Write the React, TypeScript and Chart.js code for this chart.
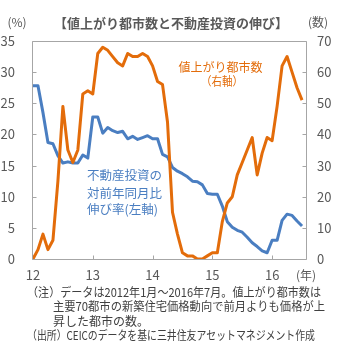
import { useEffect, useRef } from "react";
import { Chart, registerables } from "chart.js";

Chart.register(...registerables);

// Month index 0 = Jan 2012 ... 54 = Jul 2016
const yearTickMonths = [0, 12, 24, 36, 48];
const yearTickLabels = ["12", "13", "14", "15", "16"];

// 不動産投資の対前年同月比伸び率 (%), left axis
const investmentGrowth = [
  27.8, 27.8, 23.5, 18.7, 18.5, 16.6, 15.4, 15.6, 15.4, 15.4, 16.7, 16.2,
  22.8, 22.8, 20.2, 21.1, 20.6, 20.3, 20.5, 19.3, 19.7, 19.2, 19.5, 19.8,
  19.3, 19.3, 16.8, 16.4, 14.7, 14.1, 13.7, 13.2, 12.5, 12.4, 11.9, 10.5,
  10.4, 10.4, 8.5, 6.0, 5.1, 4.6, 4.3, 3.5, 2.6, 2.0, 1.3, 1.0,
  3.0, 3.0, 6.2, 7.2, 7.0, 6.1, 5.3,
];

// 値上がり都市数 (cities), right axis
const risingCities = [
  0, 3, 8, 3, 6, 25, 49, 35, 31, 35, 53, 54,
  53, 66, 68, 67, 65, 63, 62, 66, 65, 65, 66, 65,
  62, 57, 56, 44, 15, 8, 2, 1, 1, 0, 0, 1,
  2, 2, 12, 18, 20, 27, 31, 35, 39, 27, 34, 39,
  38, 49, 62, 65, 60, 55, 51,
];

const leftTicksMax = 35;
const rightTicksMax = 70;

const ORANGE = "#E36C0A";
const BLUE = "#4A7EC1";
const AXIS_GRAY = "#A6A6A6";
const TEXT_GRAY = "#595959";
const FONT = '"Noto Sans CJK JP", "Noto Sans", sans-serif';

const titleText = "【値上がり都市数と不動産投資の伸び】";
const orangeLabel = ["値上がり都市数", "（右軸）"];
const blueLabel = ["不動産投資の", "対前年同月比", "伸び率(左軸)"];
const footnotes = [
  "（注）データは2012年1月～2016年7月。値上がり都市数は",
  "主要70都市の新築住宅価格動向で前月よりも価格が上",
  "昇した都市の数。",
  "（出所）CEICのデータを基に三井住友アセットマネジメント作成",
];

const decorPlugin = {
  id: "decor",
  beforeDatasetsDraw(chart: any) {
    const { ctx, chartArea } = chart;
    const { left, right, top, bottom } = chartArea;
    ctx.save();
    ctx.strokeStyle = AXIS_GRAY;
    ctx.lineWidth = 1;
    ctx.beginPath();
    const L = Math.round(left) - 0.5;
    const R = Math.round(right) - 0.5;
    const T = Math.round(top) + 0.5;
    const B = Math.round(bottom) + 0.5;
    ctx.moveTo(L, T);
    ctx.lineTo(R, T);
    ctx.lineTo(R, B);
    ctx.lineTo(L, B);
    ctx.closePath();
    // inside tick marks
    const xs = chart.scales.x;
    yearTickMonths.forEach((m) => {
      const px = Math.round(xs.getPixelForValue(m)) + 0.5;
      ctx.moveTo(px, B);
      ctx.lineTo(px, B - 4);
    });
    const yl = chart.scales.yL;
    for (let v = 0; v <= leftTicksMax; v += 5) {
      const py = Math.round(yl.getPixelForValue(v)) + 0.5;
      ctx.moveTo(L, py);
      ctx.lineTo(L + 4, py);
    }
    const yr = chart.scales.yR;
    for (let v = 0; v <= rightTicksMax; v += 10) {
      const py = Math.round(yr.getPixelForValue(v)) + 0.5;
      ctx.moveTo(R, py);
      ctx.lineTo(R - 4, py);
    }
    ctx.stroke();
    ctx.restore();
  },
  afterDraw(chart: any) {
    const { ctx } = chart;
    ctx.save();
    ctx.textBaseline = "middle";
    // title
    ctx.fillStyle = TEXT_GRAY;
    ctx.textAlign = "center";
    ctx.font = `bold 13px ${FONT}`;
    ctx.fillText(titleText, 171, 23, 240);
    // axis unit labels
    ctx.font = `12px ${FONT}`;
    ctx.fillText("(%)", 17, 22);
    ctx.fillText("(数)", 318, 22);
    ctx.fillText("(年)", 306, 275);
    // orange annotation
    ctx.fillStyle = ORANGE;
    ctx.font = `12px ${FONT}`;
    ctx.fillText(orangeLabel[0], 220.5, 67, 86);
    ctx.fillText(orangeLabel[1], 222, 81, 42);
    // blue annotation
    ctx.fillStyle = BLUE;
    ctx.textAlign = "left";
    ctx.font = `12.5px ${FONT}`;
    ctx.fillText(blueLabel[0], 87, 175.5, 76);
    ctx.fillText(blueLabel[1], 87, 193, 76);
    ctx.fillText(blueLabel[2], 87, 209.5, 76);
    // footnotes
    ctx.fillStyle = "#404040";
    ctx.font = `12px ${FONT}`;
    ctx.fillText(footnotes[0], 27, 292, 294);
    ctx.fillText(footnotes[1], 53, 306.5, 272);
    ctx.fillText(footnotes[2], 53, 321, 96);
    ctx.fillText(footnotes[3], 27, 335, 288);
    ctx.restore();
  },
};

export default function App() {
  const ref = useRef<HTMLCanvasElement>(null);
  useEffect(() => {
    if (!ref.current) return;
    const tickFont = { family: FONT, size: 13 };
    const chart = new Chart(ref.current, {
      type: "line",
      data: {
        datasets: [
          {
            label: "値上がり都市数",
            data: risingCities.map((v, i) => ({ x: i, y: v })),
            yAxisID: "yR",
            borderColor: ORANGE,
            backgroundColor: ORANGE,
            borderWidth: 3,
            pointRadius: 0,
            tension: 0,
            order: 0,
            borderJoinStyle: "round",
          },
          {
            label: "不動産投資の対前年同月比伸び率",
            data: investmentGrowth.map((v, i) => ({ x: i, y: v })),
            yAxisID: "yL",
            borderColor: BLUE,
            backgroundColor: BLUE,
            borderWidth: 3,
            pointRadius: 0,
            tension: 0,
            order: 1,
            borderJoinStyle: "round",
          },
        ],
      },
      options: {
        responsive: false,
        animation: false,
        devicePixelRatio: 1,
        layout: { padding: { top: 41, bottom: 61, left: 0, right: 0 } },
        plugins: { legend: { display: false }, tooltip: { enabled: false } },
        scales: {
          x: {
            type: "linear",
            min: 0,
            max: 55,
            afterBuildTicks: (s: any) => {
              s.ticks = yearTickMonths.map((v) => ({ value: v }));
            },
            ticks: {
              autoSkip: false,
              maxRotation: 0,
              padding: 8,
              color: TEXT_GRAY,
              font: tickFont,
              callback: (v: any) => {
                const k = yearTickMonths.indexOf(Number(v));
                return k >= 0 ? yearTickLabels[k] : "";
              },
            },
            grid: { display: false, drawTicks: false },
            border: { display: false },
            afterFit: (s: any) => {
              s.height = 30;
            },
          },
          yL: {
            type: "linear",
            position: "left",
            min: 0,
            max: leftTicksMax,
            ticks: { stepSize: 5, padding: 18, color: TEXT_GRAY, font: tickFont },
            grid: { display: false, drawTicks: false },
            border: { display: false },
            afterFit: (s: any) => {
              s.width = 33;
            },
          },
          yR: {
            type: "linear",
            position: "right",
            min: 0,
            max: rightTicksMax,
            ticks: { stepSize: 10, padding: 10, color: TEXT_GRAY, font: tickFont },
            grid: { display: false, drawTicks: false },
            border: { display: false },
            afterFit: (s: any) => {
              s.width = 38;
            },
          },
        },
      },
      plugins: [decorPlugin],
    } as any);
    return () => chart.destroy();
  }, []);
  return (
    <div
      style={{
        position: "fixed",
        left: 0,
        top: 0,
        width: 345,
        height: 350,
        background: "#fff",
      }}
    >
      <canvas ref={ref} width={345} height={350} style={{ display: "block" }} />
    </div>
  );
}
